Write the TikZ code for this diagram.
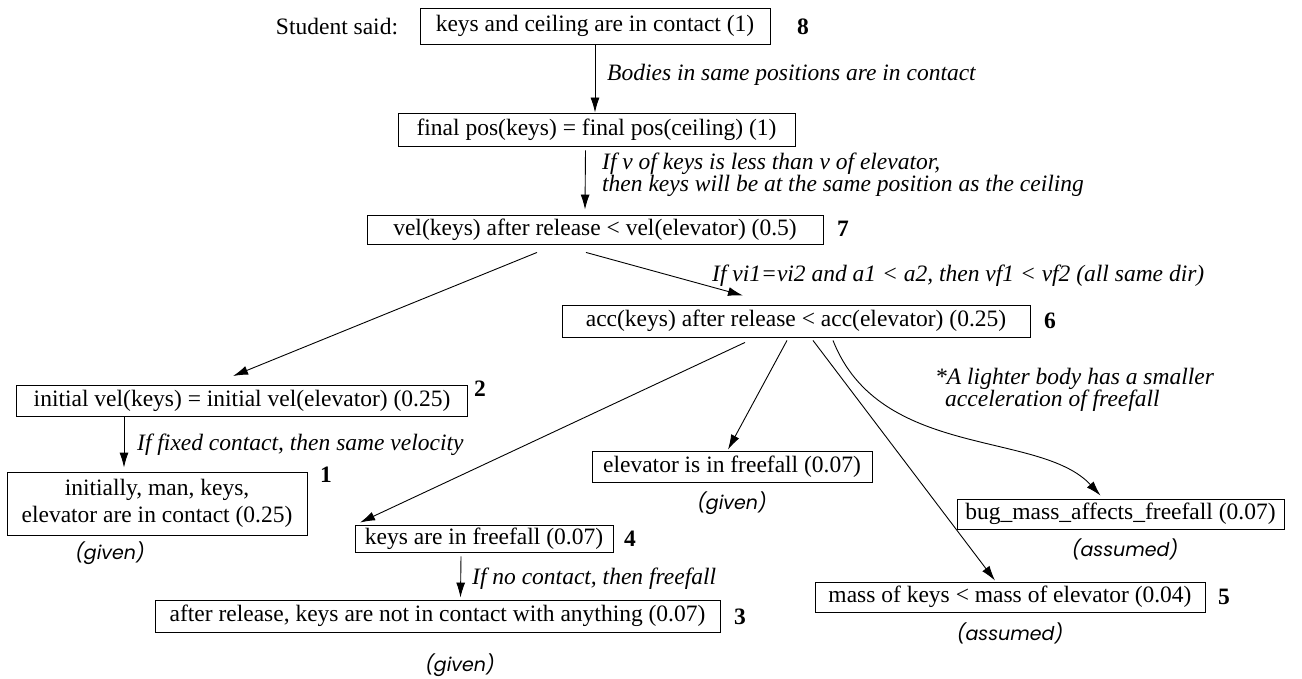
\documentclass[tikz,border=0pt]{standalone}
\usepackage{fontspec}
\setmainfont{Liberation Serif}
\newfontfamily\gvnfont{Poppins}
\usetikzlibrary{arrows.meta,calc}
\begin{document}
\begin{tikzpicture}[x=1pt,y=-1pt,
 box/.style={draw, line width=0.9pt, inner sep=0pt, font=\fontsize{23.5}{22}\selectfont},
 lbl/.style={font=\fontsize{23.5}{22}\selectfont\itshape, anchor=west, align=left, inner sep=0pt},
 plain/.style={font=\fontsize{23.5}{22}\selectfont, inner sep=0pt},
 num/.style={font=\fontsize{23.5}{22}\selectfont\bfseries, inner sep=0pt},
 note/.style={font=\gvnfont\fontsize{19}{22}\selectfont\itshape, inner sep=0pt},
 edge/.style={line width=0.9pt, -{Latex[length=15pt,width=9pt]}}]
\useasboundingbox (0,0) rectangle (1302,679);

% boxes
\node[box, minimum width=350, minimum height=36] (n8) at (595,26) {keys and ceiling are in contact (1)};
\node[box, minimum width=397, minimum height=33] (nf) at (596.5,129.5) {final pos(keys) = final pos(ceiling) (1)};
\node[box, minimum width=456, minimum height=29] (vel) at (595,229.5) {vel(keys) after release < vel(elevator) (0.5)};
\node[box, minimum width=468, minimum height=32] (acc) at (796,321) {acc(keys) after release < acc(elevator) (0.25)};
\node[box, minimum width=451, minimum height=31] (n2) at (242,401) {initial vel(keys) = initial vel(elevator) (0.25)};
\node[box, minimum width=300, minimum height=63, align=center, font=\fontsize{23.5}{27}\selectfont] (n1) at (157,503.5) {initially, man, keys,\\elevator are in contact (0.25)};
\node[box, minimum width=280, minimum height=31] (elev) at (732,466.5) {elevator is in freefall (0.07)};
\node[box, minimum width=258, minimum height=27] (n4) at (484,538.5) {keys are in freefall (0.07)};
\node[box, minimum width=565, minimum height=32] (n3) at (437.5,616) {after release, keys are not in contact with anything (0.07)};
\node[box, minimum width=327, minimum height=30] (bug) at (1120.5,514) {bug\_mass\_affects\_freefall (0.07)};
\node[box, minimum width=390, minimum height=30] (mass) at (1010,597) {mass of keys < mass of elevator (0.04)};

% side texts
\node[plain] (said) at (337,27) {Student said:};
\node[num] (k8) at (803,27) {8};
\node[num] (k7) at (843,229) {7};
\node[num] (k6) at (1050,321) {6};
\node[num] (k2) at (480,389) {2};
\node[num] (k1) at (326,475) {1};
\node[num] (k4) at (630,539) {4};
\node[num] (k3) at (740,617) {3};
\node[num] (k5) at (1224,597) {5};

\node[note] (g1) at (110,553) {(given)};
\node[note] (g2) at (732,503) {(given)};
\node[note] (g3) at (460,665) {(given)};
\node[note] (a1) at (1125,549) {(assumed)};
\node[note] (a2) at (1010,633) {(assumed)};

% edge labels
\node[lbl] (l1) at (607,75) {Bodies in same positions are in contact};
\node[lbl, font=\fontsize{23.5}{19.5}\selectfont\itshape] (l2) at (602,175) {If v of keys is less than v of elevator,\\then keys will be at the same position as the ceiling};
\node[lbl] (l3) at (712,276) {If vi1=vi2 and a1 < a2, then vf1 < vf2 (all same dir)};
\node[lbl] (l4) at (137,445) {If fixed contact, then same velocity};
\node[lbl] (l5) at (472,579) {If no contact, then freefall};
\node[lbl, font=\fontsize{23.5}{21}\selectfont\itshape] (l6) at (935,390) {*A lighter body has a smaller\\\hspace*{10pt}acceleration of freefall};

% edges
\draw[edge] (n8.south) -- (n8.south |- nf.north);
\draw[edge] ($(nf.south)+(-11,4)$) -- ($(vel.north)+(-10,-5)$);
\draw[edge] ($(vel.south)+(-58,8)$) -- ($(n2.north)+(-9,-9)$);
\draw[edge] ($(vel.south)+(-9,8)$) -- ($(acc.north)+(-53,-9)$);
\draw[edge] ($(n2.south)+(-118,0)$) -- ($(n1.north)+(-33,-4)$);
\draw[edge] ($(acc.south)+(-51,5)$) -- ($(n4.north)+(-124,-2)$);
\draw[edge] ($(acc.south)+(-9,3)$) -- ($(elev.north)+(-4,-1)$);
\draw[edge] ($(acc.south)+(17,3)$) -- ($(mass.north)+(-15,-1)$);
\draw[edge] ($(acc.south)+(37,3)$) .. controls (880,460) and (1040,430) .. ($(bug.north)+(-20,-3)$);
\draw[edge] ($(n4.south)+(-23,4)$) -- ($(n3.north)+(23,-2)$);
\end{tikzpicture}
\end{document}
